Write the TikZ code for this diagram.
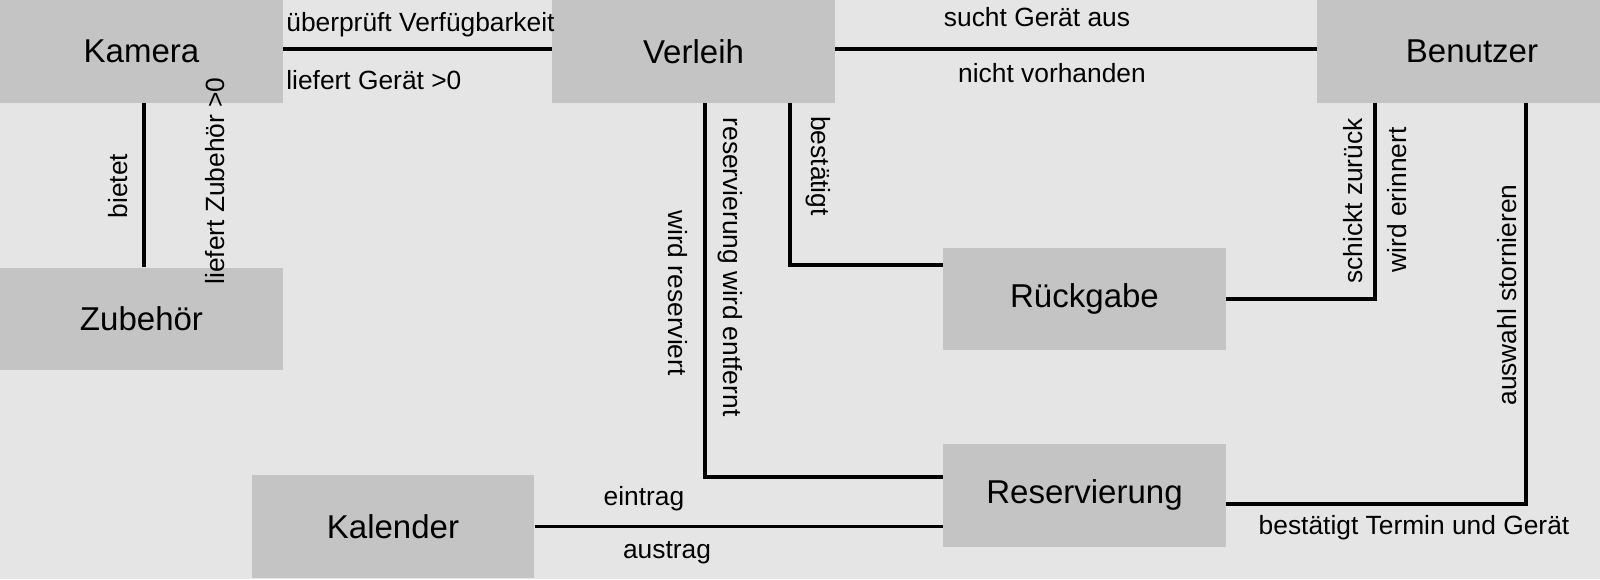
\documentclass[tikz,border=0pt]{standalone}
\usepackage{fontspec}
\setmainfont{Liberation Sans}
\usepackage{xcolor}
\usetikzlibrary{calc}
\definecolor{bggray}{HTML}{E5E5E5}
\definecolor{boxgray}{HTML}{C4C4C4}

\begin{document}
\begin{tikzpicture}[x=0.02cm,y=-0.02cm,
    box/.style={fill=boxgray,minimum width=5.66cm,minimum height=2.06cm,inner sep=0pt,font=\fontsize{18.8}{21}\selectfont},
    lbl/.style={inner sep=0pt,font=\fontsize{15}{17}\selectfont},
    link/.style={line width=1.8pt}]
  \clip (0,0) rectangle (1600,579);
  \fill[bggray] (0,0) rectangle (1600,579);
  \node[box] (kamera) at (141.5,51.5) {Kamera};
  \node[box] (verleih) at (693.5,51.5) {Verleih};
  \node[box,minimum width=6.2cm] (benutzer) at (1472,51.5) {Benutzer};
  \node[box] (zubehoer) at (141.5,319) {Zubehör};
  \node[box] (rueckgabe) at (1084.5,299) {Rückgabe};
  \node[box] (reservierung) at (1084.5,495) {Reservierung};
  \node[box] (kalender) at (393,526.5) {Kalender};
  \draw[link] ($(kamera.east)+(0,-2.5)$) -- ($(verleih.west)+(0,-2.5)$);
  \draw[link] ($(verleih.east)+(0,-2.5)$) -- ($(benutzer.west)+(0,-2.5)$);
  \draw[link] ($(kamera.south)+(2.5,0)$) -- ($(zubehoer.north)+(2.5,0)$);
  \draw[link] ($(verleih.south)+(11.5,0)$) |- ($(reservierung.west)+(0,-18)$);
  \draw[link] ($(verleih.south)+(96.5,0)$) |- ($(rueckgabe.west)+(0,-34)$);
  \draw[link] (rueckgabe.east) -| ($(benutzer.south)+(-97,0)$);
  \draw[link] ($(reservierung.east)+(0,9)$) -| ($(benutzer.south)+(54,0)$);
  \draw[link] (kalender.east) -- (kalender.east -| reservierung.west);
  \node[lbl,anchor=west] (prueft) at (286,25) {überprüft Verfügbarkeit};
  \node[lbl,anchor=west] (liefertgeraet) at (286,80) {liefert Gerät >0};
  \node[lbl] (sucht) at (1037,17) {sucht Gerät aus};
  \node[lbl] (nicht) at (1052,73) {nicht vorhanden};
  \node[lbl,rotate=90] (bietet) at (118,186) {bietet};
  \node[lbl,rotate=90] (liefertzub) at (215,181) {liefert Zubehör >0};
  \node[lbl,rotate=-90] (entfernt) at (730,267) {reservierung wird entfernt};
  \node[lbl,rotate=-90] (reserviert) at (678,293) {wird reserviert};
  \node[lbl,rotate=-90] (bestaetigt) at (818,166) {bestätigt};
  \node[lbl,rotate=90] (schickt) at (1353,201) {schickt zurück};
  \node[lbl,rotate=90] (erinnert) at (1397,200) {wird erinnert};
  \node[lbl,rotate=90] (storno) at (1507,295) {auswahl stornieren};
  \node[lbl] (termin) at (1414,528) {bestätigt Termin und Gerät};
  \node[lbl] (eintrag) at (644,499) {eintrag};
  \node[lbl] (austrag) at (667,553) {austrag};
\end{tikzpicture}
\end{document}
